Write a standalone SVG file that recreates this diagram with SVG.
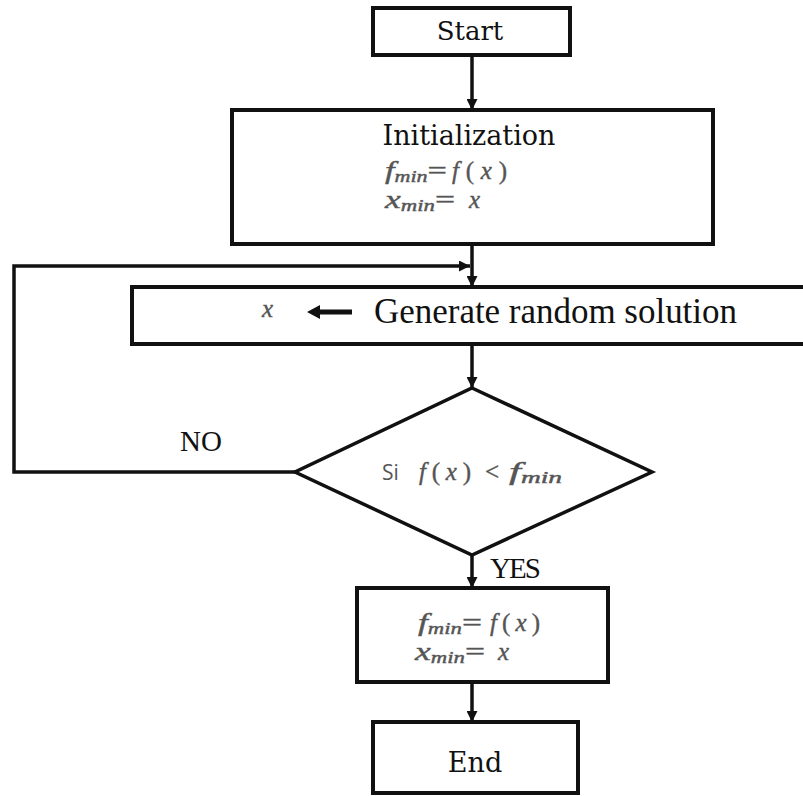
<svg xmlns="http://www.w3.org/2000/svg" width="803" height="796" viewBox="0 0 803 796">
  <style>
    .box { fill: #ffffff; stroke: #111111; stroke-width: 4; }
    .dia { fill: #ffffff; stroke: #111111; stroke-width: 3.5; }
    .conn { fill: none; stroke: #111111; stroke-width: 3.5; }
    .lbl { font-family: "DejaVu Serif", "Liberation Serif", serif; fill: #111111; }
    .tms { font-family: "Liberation Serif", "Times New Roman", serif; fill: #111111; }
    .math { font-family: "Liberation Serif", "Times New Roman", serif; font-style: italic; fill: #555555; stroke: #555555; stroke-width: 0.4; font-size: 25px; }
    .up { font-style: normal; }
    .sub { font-size: 16px; }
    .sans { font-family: "Open Sans", "Liberation Sans", sans-serif; fill: #555555; }
  </style>
  <defs>
    <marker id="head" viewBox="0 0 10 10" refX="10" refY="5" markerWidth="11" markerHeight="11" markerUnits="userSpaceOnUse" orient="auto">
      <path d="M0,0 L10,5 L0,10 z" fill="#111111"/>
    </marker>
  </defs>
  <rect width="803" height="796" fill="#ffffff"/>

  <g id="connectors">
    <line class="conn" x1="472" y1="55" x2="472" y2="110" marker-end="url(#head)"/>
    <line class="conn" x1="472" y1="244" x2="472" y2="287" marker-end="url(#head)"/>
    <line class="conn" x1="472" y1="344" x2="472" y2="388" marker-end="url(#head)"/>
    <line class="conn" x1="472" y1="555" x2="472" y2="588" marker-end="url(#head)"/>
    <line class="conn" x1="472" y1="682" x2="472" y2="722" marker-end="url(#head)"/>
    <polyline class="conn" points="295,472 14,472 14,266 470,266" marker-end="url(#head)"/>
    <text class="tms" x="180" y="451" font-size="29">NO</text>
    <text class="tms" x="490" y="578" font-size="29" textLength="51">YES</text>
  </g>

  <g id="start">
    <rect class="box" x="373" y="8" width="197" height="47"/>
    <text class="lbl" x="470" y="40" font-size="26" text-anchor="middle">Start</text>
  </g>

  <g id="init">
    <rect class="box" x="232" y="110" width="481" height="134"/>
    <text class="lbl" x="469" y="145" font-size="27" text-anchor="middle">Initialization</text>
    <text class="math" x="385" y="179" textLength="62" lengthAdjust="spacingAndGlyphs">f<tspan class="sub" dy="3">min</tspan><tspan class="up" dy="-3">=</tspan></text>
    <text class="math" x="452" y="179" textLength="55" lengthAdjust="spacing">f<tspan class="up">(</tspan>x<tspan class="up">)</tspan></text>
    <text class="math" x="385" y="208" textLength="70" lengthAdjust="spacingAndGlyphs">x<tspan class="sub" dy="3">min</tspan><tspan class="up" dy="-3">=</tspan></text>
    <text class="math" x="469" y="208">x</text>
  </g>

  <g id="generate">
    <rect class="box" x="132" y="287" width="690" height="57"/>
    <text class="math" x="262" y="317">x</text>
    <path d="M307,312 L320,305 L320,309.5 L352,309.5 L352,314.5 L320,314.5 L320,319 z" fill="#111111"/>
    <text class="tms" x="374" y="323" font-size="35" textLength="363">Generate random solution</text>
  </g>

  <g id="decision">
    <polygon class="dia" points="472,388 652,472 472,555 295,472"/>
    <text class="sans" x="382" y="480" font-size="21">Si</text>
    <text class="math" x="419" y="480" textLength="52" lengthAdjust="spacing">f<tspan class="up">(</tspan>x<tspan class="up">)</tspan></text>
    <text class="math up" x="485" y="480" font-size="24" stroke-width="0">&lt;</text>
    <text class="math" x="509" y="480" textLength="53" lengthAdjust="spacingAndGlyphs">f<tspan class="sub" dy="3">min</tspan></text>
  </g>

  <g id="update">
    <rect class="box" x="357" y="588" width="251" height="94"/>
    <text class="math" x="418" y="631" textLength="64" lengthAdjust="spacingAndGlyphs">f<tspan class="sub" dy="3">min</tspan><tspan class="up" dy="-3">=</tspan></text>
    <text class="math" x="490" y="631" textLength="50" lengthAdjust="spacing">f<tspan class="up">(</tspan>x<tspan class="up">)</tspan></text>
    <text class="math" x="415" y="660" textLength="70" lengthAdjust="spacingAndGlyphs">x<tspan class="sub" dy="3">min</tspan><tspan class="up" dy="-3">=</tspan></text>
    <text class="math" x="498" y="660">x</text>
  </g>

  <g id="end">
    <rect class="box" x="373" y="722" width="205" height="71"/>
    <text class="lbl" x="475" y="772" font-size="27" text-anchor="middle">End</text>
  </g>
</svg>
